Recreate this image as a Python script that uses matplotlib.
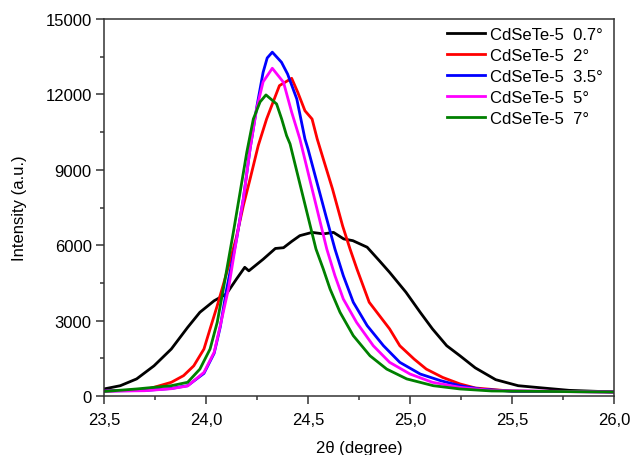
import matplotlib
matplotlib.use("Agg")
import matplotlib.pyplot as plt
from matplotlib.ticker import MultipleLocator, FuncFormatter

plt.rcParams["font.family"] = ["Liberation Sans", "DejaVu Sans"]
plt.rcParams["font.size"] = 12

# 2-theta positions and intensities, one pair of lists per sample
x_07 = [23.50, 23.58, 23.66, 23.745, 23.83, 23.91, 23.97, 24.04, 24.10, 24.15, 24.19, 24.21,
        24.28, 24.34, 24.38, 24.42, 24.46, 24.52, 24.575, 24.625, 24.675, 24.72, 24.79, 24.85,
        24.90, 24.98, 25.05, 25.11, 25.18, 25.245, 25.32, 25.42, 25.53, 25.65, 25.78, 26.00]
y_07 = [280, 410, 680, 1200, 1870, 2730, 3330, 3790, 4060, 4660, 5120, 4980,
        5440, 5870, 5900, 6150, 6380, 6510, 6450, 6510, 6250, 6180, 5920, 5380,
        4920, 4130, 3330, 2670, 2000, 1600, 1120, 650, 410, 320, 225, 160]

x_2 = [23.50, 23.60, 23.70, 23.745, 23.83, 23.89, 23.94, 23.99, 24.02, 24.055, 24.088, 24.12,
       24.147, 24.183, 24.216, 24.256, 24.297, 24.322, 24.36, 24.42, 24.45, 24.485, 24.52,
       24.545, 24.575, 24.62, 24.67, 24.706, 24.74, 24.77, 24.80, 24.85, 24.90, 24.95, 25.02,
       25.08, 25.16, 25.245, 25.32, 25.50, 26.00]
y_2 = [200, 220, 250, 345, 545, 810, 1200, 1870, 2670, 3590, 4520, 5450,
       6250, 7570, 8630, 9960, 11020, 11550, 12350, 12640, 12080, 11350, 11020,
       10230, 9430, 8240, 6760, 5850, 5050, 4390, 3730, 3200, 2670, 2000, 1470,
       1070, 740, 480, 320, 190, 160]

x_35 = [23.50, 23.70, 23.83, 23.91, 23.99, 24.04, 24.07, 24.10, 24.15, 24.183, 24.216, 24.25,
        24.28, 24.30, 24.325, 24.37, 24.40, 24.445, 24.485, 24.50, 24.59, 24.632, 24.673,
        24.722, 24.79, 24.87, 24.95, 25.05, 25.15, 25.245, 25.35, 25.50, 26.00]
y_35 = [200, 220, 300, 410, 900, 1700, 2750, 4200, 6250, 7840, 9830, 11550,
        12880, 13450, 13680, 13280, 12810, 11820, 10230, 9830, 7100, 5850, 4790,
        3730, 2800, 2000, 1340, 875, 610, 410, 270, 190, 160]

x_5 = [23.50, 23.70, 23.83, 23.91, 23.99, 24.04, 24.07, 24.11, 24.15, 24.183, 24.216, 24.248,
       24.28, 24.325, 24.38, 24.42, 24.46, 24.592, 24.632, 24.673, 24.738, 24.82, 24.90,
       25.00, 25.11, 25.245, 25.40, 26.00]
y_5 = [190, 210, 290, 400, 940, 1740, 2800, 4260, 6250, 7840, 9830, 11420,
       12500, 13040, 12480, 11290, 10230, 5850, 4790, 3860, 2930, 2000, 1340,
       875, 545, 345, 220, 160]

x_7 = [23.50, 23.66, 23.83, 23.91, 23.97, 24.02, 24.055, 24.085, 24.134, 24.167, 24.20, 24.232,
       24.265, 24.294, 24.346, 24.371, 24.395, 24.412, 24.539, 24.575, 24.608, 24.657, 24.722,
       24.804, 24.886, 24.984, 25.114, 25.245, 25.40, 26.00]
y_7 = [180, 280, 410, 545, 1070, 1870, 2930, 4260, 6510, 8100, 9700, 11020,
       11700, 11980, 11620, 11020, 10360, 10030, 5850, 5050, 4260, 3330, 2400,
       1600, 1070, 680, 410, 280, 200, 160]

labels = ["CdSeTe-5  0.7°", "CdSeTe-5  2°", "CdSeTe-5  3.5°", "CdSeTe-5  5°", "CdSeTe-5  7°"]
colors = ["black", "#ff0000", "#0000ff", "#ff00ff", "#008000"]
series = [(x_07, y_07), (x_2, y_2), (x_35, y_35), (x_5, y_5), (x_7, y_7)]

fig = plt.figure(figsize=(6.33, 4.56), dpi=100)
ax = fig.add_axes([104/633, 59/456, 510/633, 377/456])

for (xs, ys), c, lab in zip(series, colors, labels):
    ax.plot(xs, ys, color=c, lw=2.0, label=lab)

ax.set_xlim(23.5, 26.0)
ax.set_ylim(0, 15000)
ax.xaxis.set_major_locator(MultipleLocator(0.5))
ax.xaxis.set_minor_locator(MultipleLocator(0.25))
ax.yaxis.set_major_locator(MultipleLocator(3000))
ax.yaxis.set_minor_locator(MultipleLocator(1500))
ax.xaxis.set_major_formatter(FuncFormatter(lambda v, p: f"{v:.1f}".replace(".", ",")))
ax.tick_params(which="major", direction="out", length=5.8, width=1.1, pad=3, colors="#333333",
               labelcolor="black", labelsize=12)
ax.tick_params(axis="x", which="major", pad=5.5)
ax.tick_params(which="minor", direction="out", length=2.9, width=1.1, colors="#333333")
for s in ax.spines.values():
    s.set_color("#333333"); s.set_linewidth(1.1)

ax.set_xlabel("2θ (degree)", fontsize=12)
ax.set_ylabel("Intensity (a.u.)", fontsize=12)
ax.xaxis.set_label_coords(0.5, -0.118)
ax.yaxis.set_label_coords(-0.15, 0.5)

ax.legend(loc="upper left", bbox_to_anchor=(0.6725, 0.978), frameon=False, borderaxespad=0,
          borderpad=0, handlelength=2.28, handletextpad=0.3, labelspacing=0.36, fontsize=12)

fig.savefig("out.png", dpi=100)
